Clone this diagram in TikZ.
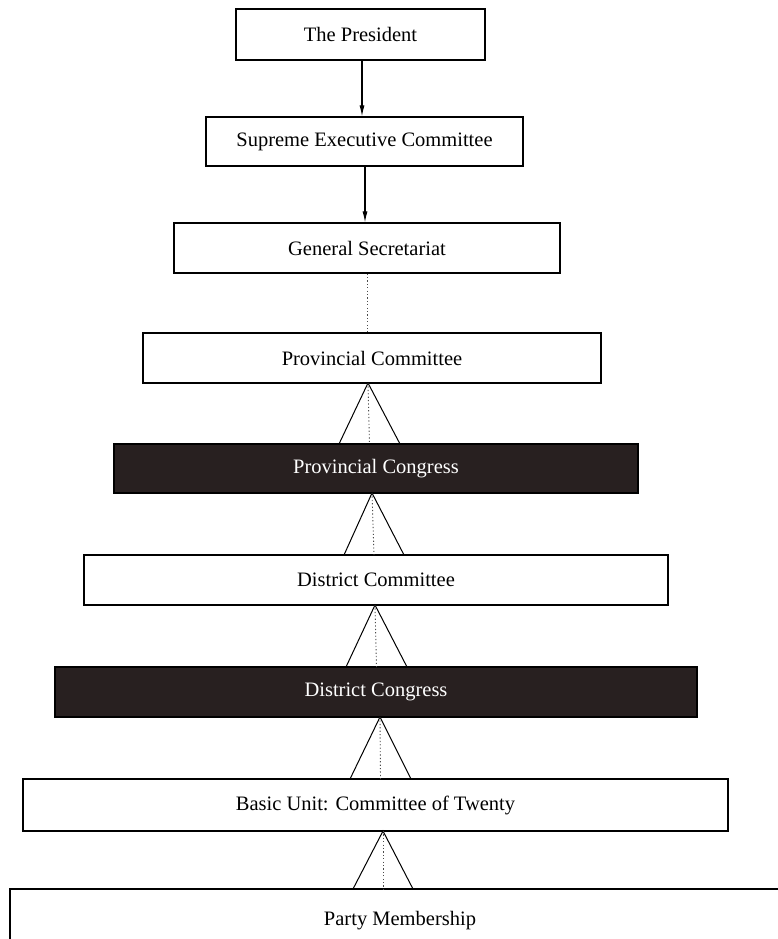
\documentclass[tikz,border=0pt]{standalone}
\usepackage{fontspec}
\setmainfont{Liberation Serif}
\usetikzlibrary{arrows.meta,calc}
\definecolor{darkbox}{RGB}{40,32,32}
\begin{document}
\begin{tikzpicture}[x=1pt,y=-1pt,
  box/.style={draw=black, line width=1.2pt, fill=white, inner sep=0pt, anchor=center,
    font=\fontsize{20.5}{24}\selectfont},
  darkbox/.style={box, fill=darkbox, text=white},
  arr/.style={line width=1.1pt, -{Latex[length=11pt,width=5pt]}},
  tri/.style={line width=1pt},
  dots/.style={line width=0.9pt, dash pattern=on 1.2pt off 2.2pt, black!70}]
\useasboundingbox (0,0) rectangle (777,939);
\fill[white] (0,0) rectangle (777,939);

\node[box, minimum width=249pt, minimum height=51pt] (pres) at (360.5,34.5) {The President};
\node[box, minimum width=317pt, minimum height=49pt] (sup) at (364.5,141.5) {Supreme Executive Committee};
\node[box, minimum width=386pt, minimum height=50pt] (gen) at (367,248) {General Secretariat};
\node[box, minimum width=458pt, minimum height=50pt] (pcom) at (372,358) {Provincial Committee};
\node[darkbox, minimum width=524pt, minimum height=49pt] (pcon) at (376,468.5) {Provincial Congress};
\node[box, minimum width=584pt, minimum height=50pt] (dcom) at (376,580) {District Committee};
\node[darkbox, minimum width=642pt, minimum height=50pt] (dcon) at (376,692) {District Congress};
\node[box, minimum width=705pt, minimum height=52pt] (basic) at (375.5,805) {Basic Unit: Committee of Twenty};
\node[box, minimum width=780pt, minimum height=64pt] (party) at (400,921) {\raisebox{3pt}{Party Membership}};

\draw[arr] (pres.south -| 362,0) -- (sup.north -| 362,0);
\draw[arr] (sup.south -| 365,0) -- (gen.north -| 365,0);
\draw[dots] (gen.south) -- (pcom.north -| 367,0);

% triangles (apex on upper box, base on lower box)
\coordinate (a1) at (368,383); \coordinate (l1) at (339,444); \coordinate (r1) at (400,444);
\coordinate (a2) at (372,493); \coordinate (l2) at (344,555); \coordinate (r2) at (404,555);
\coordinate (a3) at (375,605); \coordinate (l3) at (346,667); \coordinate (r3) at (407,667);
\coordinate (a4) at (380,717); \coordinate (l4) at (350,779); \coordinate (r4) at (411,779);
\coordinate (a5) at (383,831); \coordinate (l5) at (353,889); \coordinate (r5) at (413,889);
\foreach \i in {1,...,5}{
  \draw[tri] (l\i) -- (a\i) -- (r\i);
  \draw[dots] (a\i) -- ($(l\i)!0.5!(r\i)$);
}
\end{tikzpicture}
\end{document}
